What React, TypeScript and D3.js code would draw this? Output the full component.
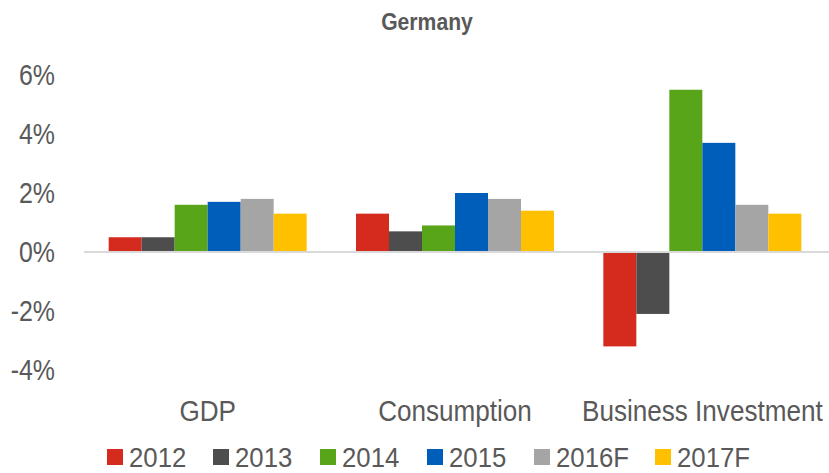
import React from "react";
import * as d3 from "d3";

const categories = ["GDP", "Consumption", "Business Investment"];
const series = ["2012", "2013", "2014", "2015", "2016F", "2017F"];
const colors = ["#d52b1e", "#4d4d4d", "#58a51a", "#005ebb", "#a5a5a5", "#ffc000"];

const v2012 = [0.5, 1.3, -3.2];
const v2013 = [0.5, 0.7, -2.1];
const v2014 = [1.6, 0.9, 5.5];
const v2015 = [1.7, 2.0, 3.7];
const v2016F = [1.8, 1.8, 1.6];
const v2017F = [1.3, 1.4, 1.3];
const values = [v2012, v2013, v2014, v2015, v2016F, v2017F];

const yTicks = [-4, -2, 0, 2, 4, 6];

const W = 829;
const H = 473;
const font = "'Liberation Sans', Arial, sans-serif";
const textColor = "#595959";

// narrow text: Liberation Sans squeezed horizontally
const Txt = ({ x, y, size, anchor = "start", sx = 0.9, weight = "normal", children }: any) => (
    <text transform={`translate(${x},${y}) scale(${sx},1)`} textAnchor={anchor}
        fontSize={size} fontWeight={weight} fill={textColor}>
        {children}
    </text>
);

const App = () => {
    const x = d3.scaleBand<string>()
        .domain(categories)
        .range([84, 826]);
    const groupWidth = 198;
    const xs = d3.scaleBand<string>()
        .domain(series)
        .range([0, groupWidth]);
    const y = d3.scaleLinear().domain([-4, 6]).range([370, 75]);

    const legendX = [107, 213, 320, 427, 534, 655];

    return (
        <svg width={W} height={H} style={{ position: "absolute", left: 0, top: 0, background: "#fff" }}
            fontFamily={font}>
            <Txt x={427} y={30} size={23} anchor="middle" sx={0.92} weight="bold">Germany</Txt>
            {yTicks.map(t => (
                <Txt key={t} x={55} y={y(t) + 10} size={29} anchor="end" sx={0.86}>{t}%</Txt>
            ))}
            {categories.map((c, si) => {
                const gx = (x(c) as number) + (x.bandwidth() - groupWidth) / 2;
                return (
                    <g key={c} transform={`translate(${gx},0)`}>
                        {series.map((s, i) => {
                            const v = values[i][si];
                            return (
                                <rect key={s} x={xs(s)} width={xs.bandwidth()}
                                    y={Math.min(y(v), y(0))} height={Math.abs(y(v) - y(0))}
                                    fill={colors[i]} />
                            );
                        })}
                        <Txt x={groupWidth / 2} y={421} size={29} anchor="middle" sx={0.9}>{c}</Txt>
                    </g>
                );
            })}
            <line x1={84} x2={829} y1={y(0)} y2={y(0)} stroke="#d9d9d9" strokeWidth={2} />
            {series.map((s, i) => (
                <g key={s} transform={`translate(${legendX[i]},0)`}>
                    <rect x={0} y={449} width={16} height={16} fill={colors[i]} />
                    <Txt x={22} y={467} size={28} sx={0.92}>{s}</Txt>
                </g>
            ))}
        </svg>
    );
};

export default App;
